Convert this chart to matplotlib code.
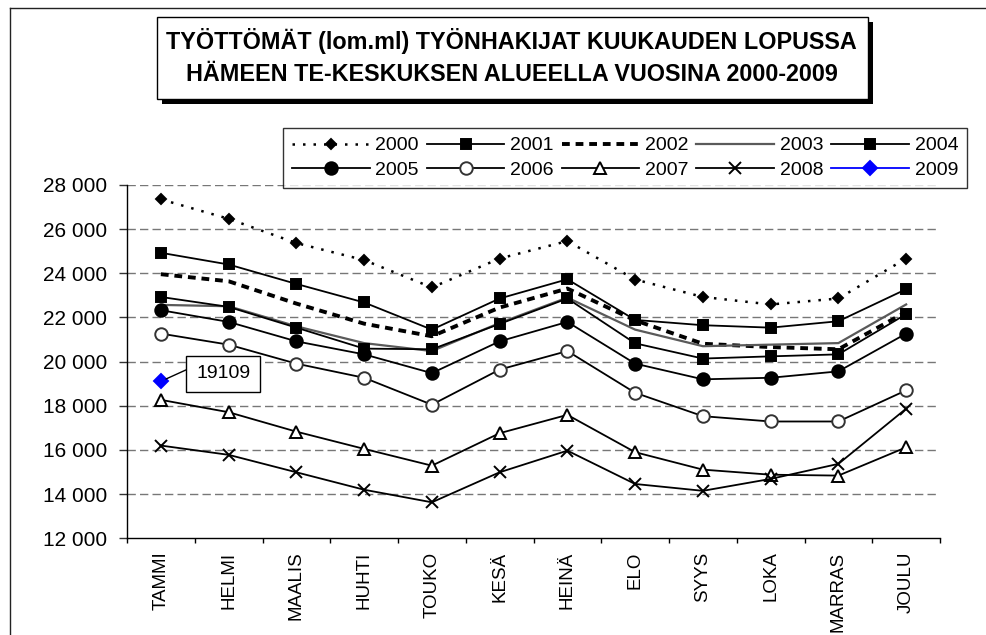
import numpy as np
import matplotlib
matplotlib.use("Agg")
import matplotlib.pyplot as plt
from matplotlib import font_manager
from matplotlib.patches import Rectangle
from matplotlib.lines import Line2D
from matplotlib.ticker import FuncFormatter, FixedLocator

# ---------------- data ----------------
months = ['TAMMI', 'HELMI', 'MAALIS', 'HUHTI', 'TOUKO', 'KESÄ', 'HEINÄ',
          'ELO', 'SYYS', 'LOKA', 'MARRAS', 'JOULU']
years = ['2000', '2001', '2002', '2003', '2004', '2005', '2006', '2007', '2008', '2009']

y2000 = [27350, 26470, 25370, 24600, 23360, 24670, 25460, 23720, 22930, 22590, 22860, 24670]
y2001 = [24930, 24400, 23520, 22680, 21450, 22860, 23730, 21890, 21650, 21540, 21830, 23280]
y2002 = [23960, 23640, 22630, 21720, 21150, 22450, 23310, 21870, 20810, 20660, 20560, 22250]
y2003 = [22570, 22510, 21600, 20840, 20480, 21750, 22900, 21450, 20700, 20770, 20840, 22590]
y2004 = [22930, 22480, 21540, 20590, 20560, 21710, 22860, 20830, 20140, 20240, 20330, 22150]
y2005 = [22330, 21800, 20920, 20330, 19480, 20920, 21800, 19910, 19200, 19270, 19560, 21270]
y2006 = [21270, 20770, 19910, 19270, 18050, 19640, 20480, 18590, 17530, 17290, 17290, 18700]
y2007 = [18270, 17710, 16830, 16050, 15290, 16760, 17590, 15900, 15110, 14880, 14840, 16120]
y2008 = [16200, 15780, 14990, 14200, 13630, 14990, 15970, 14460, 14150, 14690, 15370, 17870]
y2009 = [19109, None, None, None, None, None, None, None, None, None, None, None]

yticks = [12000, 14000, 16000, 18000, 20000, 22000, 24000, 26000, 28000]
title_lines = ['TYÖTTÖMÄT (lom.ml) TYÖNHAKIJAT KUUKAUDEN LOPUSSA',
               'HÄMEEN TE-KESKUKSEN ALUEELLA VUOSINA 2000-2009']
annot_text = '19109'

# ---------------- fonts ----------------
def has_font(name):
    try:
        font_manager.findfont(name, fallback_to_default=False)
        return True
    except Exception:
        return False

base_font = 'Liberation Sans' if has_font('Liberation Sans') else 'DejaVu Sans'
plt.rcParams['font.family'] = [base_font, 'DejaVu Sans']

W, H = 986, 635
fig = plt.figure(figsize=(W / 100, H / 100), dpi=100)
fig.patch.set_facecolor('white')

def fx(px):
    return px / W

def fy(py):
    return 1 - py / H

# outer chart-area frame (left and top edges visible)
fig.add_artist(Line2D([fx(9.5), fx(9.5)], [0, fy(7.5)], color='#222222', lw=1.0,
                      transform=fig.transFigure))
fig.add_artist(Line2D([fx(9.5), 1.0], [fy(7.5), fy(7.5)], color='#222222', lw=1.0,
                      transform=fig.transFigure))

# ---------------- axes ----------------
ax = fig.add_axes([fx(127), fy(538.3), fx(940) - fx(127), fy(185) - fy(538.3)])
x = np.arange(len(months))

def arr(v):
    return np.array([np.nan if a is None else a for a in v], dtype=float)

styles = [
    dict(data=y2000, color='black', lw=1.8, ls=(0, (1, 3.2)), marker='D', ms=5.5, mfc='black', mec='black'),
    dict(data=y2001, color='black', lw=1.3, ls='-', marker='s', ms=7, mfc='black', mec='black'),
    dict(data=y2002, color='black', lw=2.8, ls=(0, (2.0, 1.5)), marker=None),
    dict(data=y2003, color='#5a5a5a', lw=1.6, ls='-', marker=None),
    dict(data=y2004, color='black', lw=1.3, ls='-', marker='s', ms=7, mfc='black', mec='black'),
    dict(data=y2005, color='black', lw=1.3, ls='-', marker='o', ms=9, mfc='black', mec='black'),
    dict(data=y2006, color='black', lw=1.3, ls='-', marker='o', ms=9, mfc='white', mec='#333333'),
    dict(data=y2007, color='black', lw=1.3, ls='-', marker='^', ms=9, mfc='white', mec='black'),
    dict(data=y2008, color='black', lw=1.3, ls='-', marker='x', ms=8.5, mfc='black', mec='black'),
    dict(data=y2009, color='#0000ff', lw=1.3, ls='-', marker='D', ms=7, mfc='#0000ff', mec='#0000ff'),
]

handles = []
for yr, st in zip(years, styles):
    kw = dict(color=st['color'], lw=st['lw'], linestyle=st['ls'], label=yr)
    if st['marker']:
        kw.update(marker=st['marker'], markersize=st['ms'], markerfacecolor=st['mfc'],
                  markeredgecolor=st['mec'], markeredgewidth=1.4)
    ln, = ax.plot(x, arr(st['data']), zorder=3, **kw)
    handles.append(ln)
handles[-1].set_zorder(6)

ax.set_xlim(-0.5, len(months) - 0.5)
ax.set_ylim(yticks[0], yticks[-1])
ax.yaxis.set_major_locator(FixedLocator(yticks))
ax.yaxis.set_major_formatter(FuncFormatter(lambda v, p: f'{int(v):,}'.replace(',', ' ')))
ax.set_xticks(x)
ax.set_xticklabels(months, rotation=90, va='top', ha='center', fontsize=13.5)
ax.set_xticks(np.arange(-0.5, len(months), 1.0), minor=True)
ax.tick_params(axis='x', which='major', length=0, pad=9.5)
ax.tick_params(axis='x', which='minor', length=3.8, width=1, color='black', direction='out')
ax.tick_params(axis='y', which='major', length=5.8, width=1, color='#333333', direction='out',
               labelsize=15, pad=8.5)

for yv in yticks[1:]:
    ax.axhline(yv, color='#777777', lw=1.0, ls=(0, (6, 3)), zorder=1)

for s in ['top', 'right']:
    ax.spines[s].set_visible(False)
for s in ['left', 'bottom']:
    ax.spines[s].set_color('black')
    ax.spines[s].set_linewidth(1.0)

# annotation (data label for 2009 point)
ax.annotate(annot_text, xy=(0, y2009[0]), xytext=(0.92, 19450), textcoords='data',
            ha='center', va='center', fontsize=14, zorder=7,
            bbox=dict(boxstyle='square,pad=0.5', fc='white', ec='black', lw=1.0),
            arrowprops=dict(arrowstyle='-', color='black', lw=1.0, shrinkA=0, shrinkB=4,
                            relpos=(0.0, 1.0)))

# ---------------- legend ----------------
order = [0, 5, 1, 6, 2, 7, 3, 8, 4, 9]
leg = fig.legend([handles[i] for i in order], [years[i] for i in order],
                 loc='upper left', bbox_to_anchor=(fx(283), fy(128)), ncol=5,
                 fontsize=14, numpoints=1, handlelength=4.0, handletextpad=0.28,
                 columnspacing=0.42, labelspacing=0.37, borderpad=0.45,
                 frameon=True, fancybox=False, borderaxespad=0)
leg.get_frame().set_edgecolor('black')
leg.get_frame().set_linewidth(1.0)

# ---------------- title box ----------------
bx0, by0, bx1, by1 = 157, 17, 868, 99
fig.add_artist(Rectangle((fx(bx0 + 5), fy(by1 + 5)), fx(bx1 - bx0), fy(by0) - fy(by1),
                         transform=fig.transFigure, fc='black', ec='black', lw=0, zorder=2))
fig.add_artist(Rectangle((fx(bx0), fy(by1)), fx(bx1 - bx0), fy(by0) - fy(by1),
                         transform=fig.transFigure, fc='white', ec='black', lw=1.0, zorder=3))
fig.text(fx(511), fy(41.5), title_lines[0], ha='center', va='center', fontsize=16.8,
         fontweight='bold', zorder=4)
fig.text(fx(512), fy(74.5), title_lines[1], ha='center', va='center', fontsize=16.8,
         fontweight='bold', zorder=4)

fig.savefig('out.png', dpi=100, facecolor='white')
